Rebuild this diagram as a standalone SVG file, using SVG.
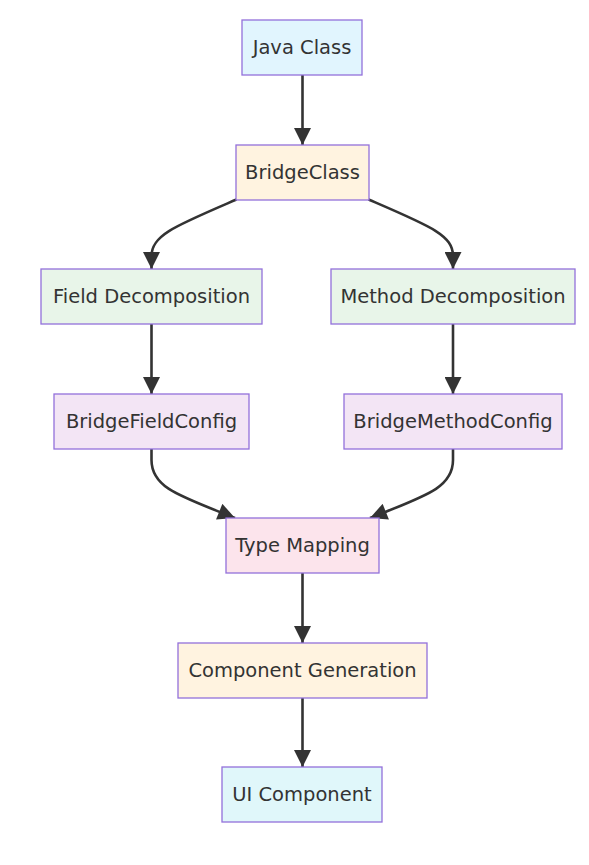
<svg xmlns="http://www.w3.org/2000/svg" width="589" height="865" viewBox="0 0 589 865">
<defs>
<style>
.node rect{stroke:#9370db;stroke-width:1.3}
.node text{font-family:"DejaVu Sans","Liberation Sans",sans-serif;font-size:19.5px;fill:#333;text-anchor:middle;dominant-baseline:central}
.edges path{fill:none;stroke:#333;stroke-width:2.6}
</style>
<marker id="arr" viewBox="0 0 10 10" refX="10" refY="5" markerUnits="userSpaceOnUse" markerWidth="18" markerHeight="17" orient="auto">
<path d="M0,0 L10,5 L0,10 z" fill="#333"/>
</marker>
</defs>
<rect width="589" height="865" fill="#fff"/>
<g class="edges">
<path d="M302.5,75 L302.5,145" marker-end="url(#arr)"/>
<path d="M236.5,199.5 C175,226 151.5,235 151.5,256 L151.5,269" marker-end="url(#arr)"/>
<path d="M368.5,199.5 C430,226 453,235 453,256 L453,269" marker-end="url(#arr)"/>
<path d="M151.5,324 L151.5,394" marker-end="url(#arr)"/>
<path d="M453,324 L453,394" marker-end="url(#arr)"/>
<path d="M151.5,449 L151.5,460 C151.5,488 180,496 235,518" marker-end="url(#arr)"/>
<path d="M453,449 L453,460 C453,488 425,496 370,518" marker-end="url(#arr)"/>
<path d="M302.5,573 L302.5,643" marker-end="url(#arr)"/>
<path d="M302.5,698 L302.5,767" marker-end="url(#arr)"/>
</g>
<g id="java" class="node"><rect x="242" y="20" width="120" height="55" fill="#e1f5fe"/><text x="302" y="47.5">Java Class</text></g>
<g id="bridge" class="node"><rect x="236" y="145" width="133" height="55" fill="#fff3e0"/><text x="302.5" y="172.5">BridgeClass</text></g>
<g id="field" class="node"><rect x="41" y="269" width="221" height="55" fill="#e8f5e9"/><text x="151.5" y="296.5">Field Decomposition</text></g>
<g id="method" class="node"><rect x="331" y="269" width="244" height="55" fill="#e8f5e9"/><text x="453" y="296.5">Method Decomposition</text></g>
<g id="fieldcfg" class="node"><rect x="54" y="394" width="195" height="55" fill="#f3e5f5"/><text x="151.5" y="421.5">BridgeFieldConfig</text></g>
<g id="methodcfg" class="node"><rect x="344" y="394" width="218" height="55" fill="#f3e5f5"/><text x="453" y="421.5">BridgeMethodConfig</text></g>
<g id="typemap" class="node"><rect x="226" y="518" width="153" height="55" fill="#fce4ec"/><text x="302.5" y="545.5">Type Mapping</text></g>
<g id="compgen" class="node"><rect x="178" y="643" width="249" height="55" fill="#fff3e0"/><text x="302.5" y="670.5">Component Generation</text></g>
<g id="ui" class="node"><rect x="222" y="767" width="160" height="55" fill="#e0f7fa"/><text x="302" y="794.5">UI Component</text></g>
</svg>
